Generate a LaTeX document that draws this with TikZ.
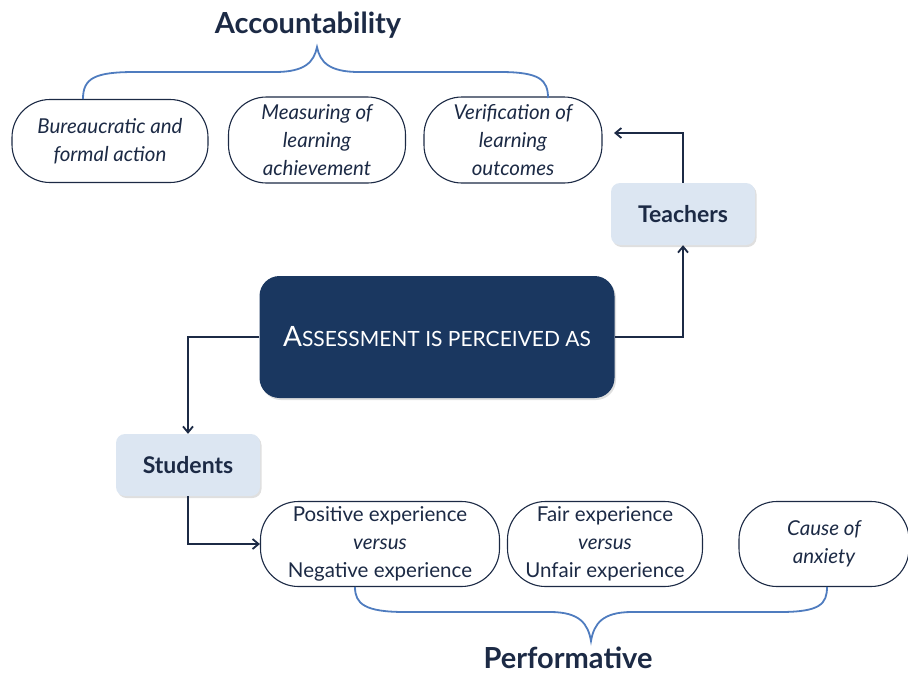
\documentclass[tikz,border=0pt]{standalone}
\usepackage{fontspec}
\setmainfont{Lato}
\usetikzlibrary{shadows,arrows.meta}
\definecolor{navy}{HTML}{1A3760}
\definecolor{ink}{HTML}{1C2A45}
\definecolor{pale}{HTML}{DCE6F2}
\definecolor{bracecol}{HTML}{4F7CBF}
\tikzset{
  oval/.style={draw=ink, line width=1.1pt, fill=white, rounded corners=38pt, inner sep=0pt,
    align=center, text=ink, font=\fontsize{20.5}{28}\selectfont},
  who/.style={fill=pale, rounded corners=9pt, minimum width=144pt, minimum height=62pt,
    text=ink, font=\fontsize{23}{26}\selectfont\bfseries,
    drop shadow={opacity=0.25, shadow xshift=1.5pt, shadow yshift=-2pt}},
  conn/.style={draw=ink, line width=1.8pt, -{Straight Barb[length=6pt,width=10pt,line width=1.8pt]}},
  bracepath/.style={draw=bracecol, line width=1.8pt},
  head/.style={text=ink, font=\fontsize{29}{32}\selectfont\bfseries}
}
\begin{document}
\begin{tikzpicture}[x=1pt,y=-1pt]
\useasboundingbox (0,0) rectangle (908,675);
% headings
\node[head] (acc) at (308,25) {Accountability};
\node[head] (perf) at (568,658) {Performative};
% top ovals
\node[oval, minimum width=196pt, minimum height=83pt] (bur) at (110,141) {\itshape Bureaucratic and\\\itshape formal action};
\node[oval, minimum width=177pt, minimum height=86pt] (mea) at (317,140) {\itshape Measuring of\\\itshape learning\\\itshape achievement};
\node[oval, minimum width=178pt, minimum height=86pt] (ver) at (513,140) {\itshape Verification of\\\itshape learning\\\itshape outcomes};
% main box
\node[fill=navy, rounded corners=20pt, minimum width=355pt, minimum height=122pt, text=white,
  drop shadow={opacity=0.25, shadow xshift=1.5pt, shadow yshift=-2pt}] (main) at (437,337)
  {\fontsize{28}{30}\selectfont A\fontsize{21}{30}\selectfont SSESSMENT IS PERCEIVED AS};
% who boxes
\node[who] (tea) at (683,214) {Teachers};
\node[who] (stu) at (188,465) {Students};
% bottom ovals
\node[oval, minimum width=239pt, minimum height=85pt] (pos) at (380,544) {Positive experience\\\itshape versus\\Negative experience};
\node[oval, minimum width=195pt, minimum height=85pt] (fair) at (605,544) {Fair experience\\\itshape versus\\Unfair experience};
\node[oval, minimum width=170pt, minimum height=85pt] (cau) at (824,544) {\itshape Cause of\\\itshape anxiety};
% connectors
\coordinate (tarr) at (614,133);
\draw[conn] (main.west) -| (stu.north);
\draw[conn] (main.east) -| (tea.south);
\draw[conn] (tea.north) |- (tarr);
\draw[conn] (stu.south) |- (pos.west);
% braces
\coordinate (b1) at (83,99);
\coordinate (b2) at (317,47);
\coordinate (b3) at (548,98);
\draw[bracepath] (b1) .. controls (83,78) and (95,72) .. (135,72) -- (275,72)
  .. controls (305,72) and (314,62) .. (b2)
  .. controls (320,62) and (329,72) .. (359,72) -- (500,72)
  .. controls (540,72) and (548,80) .. (b3);
\coordinate (c1) at (355,587);
\coordinate (c2) at (591,641);
\coordinate (c3) at (827,587);
\draw[bracepath] (c1) .. controls (355,604) and (365,612) .. (405,612) -- (550,612)
  .. controls (580,612) and (588,624) .. (c2)
  .. controls (594,624) and (602,612) .. (632,612) -- (780,612)
  .. controls (820,612) and (827,604) .. (c3);
\end{tikzpicture}
\end{document}
